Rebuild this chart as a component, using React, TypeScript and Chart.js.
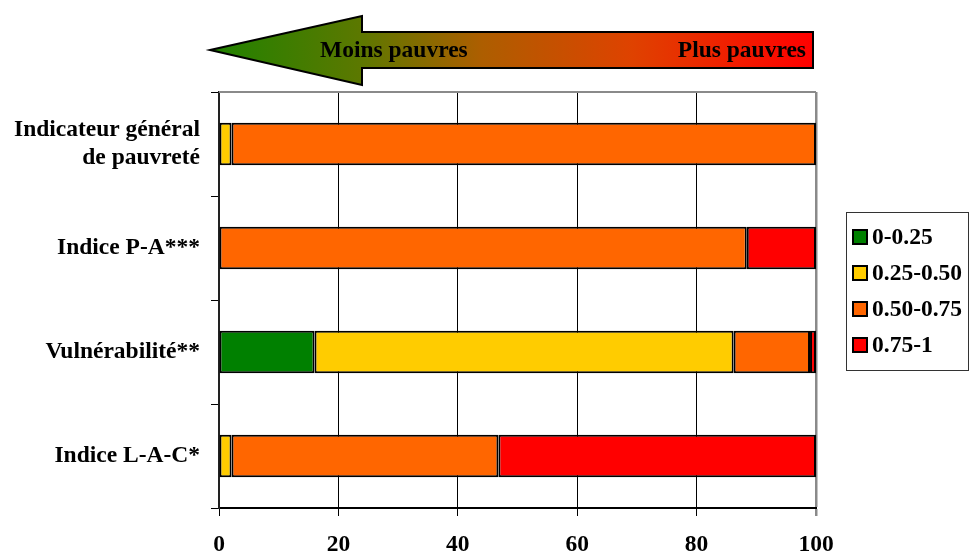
import React, { useEffect, useRef } from "react";
import { Chart, registerables } from "chart.js";

Chart.register(...registerables);

// Categories (top to bottom) and share of each score class, in percent
const categories: (string | string[])[] = [
  ["Indicateur général", "de pauvreté"],
  "Indice P-A***",
  "Vulnérabilité**",
  "Indice L-A-C*",
];
const classLabels = ["0-0.25", "0.25-0.50", "0.50-0.75", "0.75-1"];
const classColors = ["#008000", "#FFCC00", "#FF6600", "#FF0000"];
const share0to025 = [0, 0, 16, 0];
const share025to050 = [2.1, 0, 70.2, 2.1];
const share050to075 = [97.9, 88.4, 12.8, 44.7];
const share075to1 = [0, 11.6, 1, 53.2];
const xTicks = [0, 20, 40, 60, 80, 100];
const arrowLeftText = "Moins pauvres";
const arrowRightText = "Plus pauvres";

const FONT = "'Liberation Serif', 'Times New Roman', serif";
const FONT_SIZE = 23.5;

// Draws the gradient arrow above the plot, the plot frame and the side legend
const decorations = {
  id: "decorations",
  beforeDatasetsDraw(chart: any) {
    const { ctx, chartArea } = chart;
    ctx.save();
    ctx.strokeStyle = "#8a8a8a";
    ctx.lineWidth = 2;
    ctx.beginPath();
    ctx.moveTo(chartArea.left, chartArea.top);
    ctx.lineTo(chartArea.right, chartArea.top);
    ctx.stroke();
    ctx.restore();
  },
  afterDraw(chart: any) {
    const { ctx } = chart;
    ctx.save();

    // arrow
    const tipX = 210, tipY = 50, headX = 362, endX = 813;
    const headTop = 16, headBottom = 85, shaftTop = 32, shaftBottom = 68;
    const grad = ctx.createLinearGradient(tipX, 0, endX, 0);
    grad.addColorStop(0, "#1f8200");
    grad.addColorStop(0.25, "#5c7800");
    grad.addColorStop(0.45, "#ad5e00");
    grad.addColorStop(0.7, "#df4200");
    grad.addColorStop(1, "#ff0000");
    ctx.beginPath();
    ctx.moveTo(tipX, tipY);
    ctx.lineTo(headX, headTop);
    ctx.lineTo(headX, shaftTop);
    ctx.lineTo(endX, shaftTop);
    ctx.lineTo(endX, shaftBottom);
    ctx.lineTo(headX, shaftBottom);
    ctx.lineTo(headX, headBottom);
    ctx.closePath();
    ctx.fillStyle = grad;
    ctx.fill();
    ctx.strokeStyle = "#000";
    ctx.lineWidth = 2;
    ctx.lineJoin = "miter";
    ctx.stroke();

    ctx.fillStyle = "#000";
    ctx.font = `bold ${FONT_SIZE}px ${FONT}`;
    ctx.textBaseline = "middle";
    ctx.textAlign = "left";
    ctx.fillText(arrowLeftText, 320, 51);
    ctx.textAlign = "right";
    ctx.fillText(arrowRightText, 806, 51);

    // legend
    const lx = 846, ly = 212, lw = 122, lh = 158;
    ctx.strokeStyle = "#333";
    ctx.lineWidth = 1;
    ctx.strokeRect(lx + 0.5, ly + 0.5, lw, lh);
    classLabels.forEach((label, i) => {
      const cy = 237 + i * 36;
      ctx.fillStyle = classColors[i];
      ctx.fillRect(853, cy - 7, 14, 14);
      ctx.strokeStyle = "#000";
      ctx.lineWidth = 2;
      ctx.strokeRect(853, cy - 7, 14, 14);
      ctx.fillStyle = "#000";
      ctx.textAlign = "left";
      ctx.textBaseline = "middle";
      ctx.fillText(label, 872, cy + 1);
    });

    ctx.restore();
  },
};

export default function App() {
  const canvasRef = useRef<HTMLCanvasElement | null>(null);

  useEffect(() => {
    if (!canvasRef.current) return;
    const seriesValues = [share0to025, share025to050, share050to075, share075to1];
    const chart = new Chart(canvasRef.current, {
      type: "bar",
      data: {
        labels: categories,
        datasets: seriesValues.map((values, i) => ({
          label: classLabels[i],
          data: values,
          backgroundColor: classColors[i],
          borderColor: "#000",
          borderWidth: 2,
          borderSkipped: false,
          barPercentage: 0.41,
          categoryPercentage: 1,
        })),
      },
      options: {
        indexAxis: "y",
        responsive: false,
        animation: false,
        devicePixelRatio: 1,
        layout: { padding: { top: 92, right: 154, left: 0, bottom: 0 } },
        plugins: {
          legend: { display: false },
          tooltip: { enabled: false },
        },
        scales: {
          x: {
            stacked: true,
            min: 0,
            max: 100,
            afterBuildTicks: (scale: any) => {
              scale.ticks = xTicks.map((v) => ({ value: v }));
            },
            afterFit: (scale: any) => {
              scale.height = 44;
            },
            grid: {
              color: (c: any) => (c.tick && c.tick.value === 100 ? "#8a8a8a" : "#000"),
              lineWidth: (c: any) => (c.tick && c.tick.value === 100 ? 2.5 : 1),
              tickLength: 8,
              drawTicks: true,
            },
            border: { display: true, color: "#000", width: 2 },
            ticks: {
              color: "#000",
              padding: 15,
              maxRotation: 0,
              font: { family: FONT, size: FONT_SIZE, weight: "bold" },
            },
          },
          y: {
            stacked: true,
            afterFit: (scale: any) => {
              scale.width = 219;
            },
            grid: {
              drawOnChartArea: false,
              drawTicks: true,
              tickLength: 8,
              offset: true,
              color: "#000",
            },
            border: { display: true, color: "#222", width: 2 },
            ticks: {
              color: "#000",
              padding: 11,
              font: { family: FONT, size: FONT_SIZE, weight: "bold", lineHeight: 1.22 },
            },
          },
        },
      },
      plugins: [decorations],
    } as any);
    return () => chart.destroy();
  }, []);

  return (
    <div style={{ position: "absolute", left: 0, top: 0, width: 970, height: 552, background: "#fff" }}>
      <canvas ref={canvasRef} width={970} height={552} />
    </div>
  );
}
